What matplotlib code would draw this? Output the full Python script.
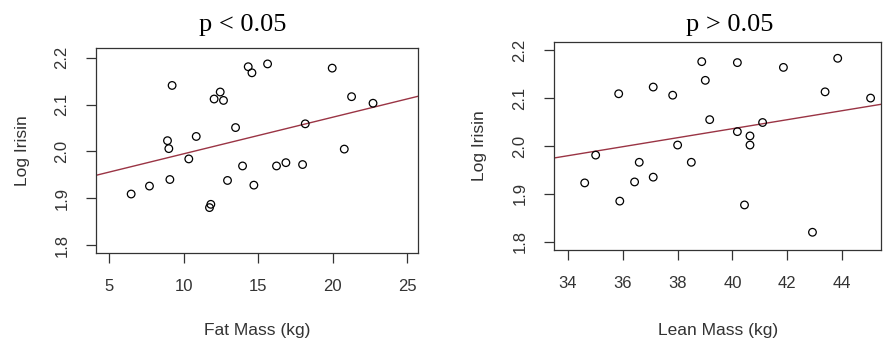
import numpy as np
import matplotlib.pyplot as plt
from matplotlib.ticker import FixedLocator, FormatStrFormatter

# data
fat_mass = [6.48, 7.71, 8.92, 9.01, 9.08, 9.23, 10.35, 10.85, 11.74, 11.83,
            12.05, 12.46, 12.68, 12.95, 13.49, 13.96, 14.34, 14.59, 14.72, 15.64,
            16.24, 16.87, 17.99, 18.17, 19.98, 20.79, 21.28, 22.72]
fat_irisin = [1.909, 1.926, 2.023, 2.006, 1.940, 2.141, 1.984, 2.032, 1.880, 1.887,
              2.112, 2.127, 2.109, 1.938, 2.051, 1.969, 2.181, 2.168, 1.928, 2.187,
              1.969, 1.976, 1.972, 2.059, 2.178, 2.005, 2.117, 2.103]
fat_fit = [1.9168, 0.00781]   # intercept, slope

lean_mass = [34.61, 35.01, 35.85, 35.89, 36.43, 36.60, 37.11, 37.11, 37.82, 38.00,
             38.50, 38.88, 39.01, 39.17, 40.18, 40.18, 40.44, 40.64, 40.64, 41.10,
             41.86, 42.92, 43.38, 43.84, 45.04]
lean_irisin = [1.923, 1.981, 2.109, 1.885, 1.925, 1.966, 2.123, 1.935, 2.106, 2.002,
               1.966, 2.176, 2.137, 2.055, 2.030, 2.174, 1.877, 2.021, 2.002, 2.049,
               2.164, 1.820, 2.113, 2.183, 2.100]
lean_fit = [1.6605, 0.00939]

fat_ticks = [5, 10, 15, 20, 25]
lean_ticks = [34, 36, 38, 40, 42, 44]
y_ticks = [1.8, 1.9, 2.0, 2.1, 2.2]

W, H = 883, 343
fig = plt.figure(figsize=(W / 100, H / 100), dpi=100)

def px(x0, y0, x1, y1):
    # pixel box (top-left origin) -> figure rect
    return [x0 / W, 1 - y1 / H, (x1 - x0) / W, (y1 - y0) / H]

txt = '#333333'

def panel(rect, x, y, fit, xticks, xlim, ylim, title, title_x, xlabel, xlab_x, ylab_x):
    ax = fig.add_axes(px(*rect))
    ax.scatter(x, y, s=30, facecolors='none', edgecolors='black', linewidths=0.9, zorder=3)
    ax.axline((0, fit[0]), slope=fit[1], color='#9a3444', lw=1.0)
    ax.set_xlim(xlim)
    ax.set_ylim(ylim)
    ax.xaxis.set_major_locator(FixedLocator(xticks))
    ax.yaxis.set_major_locator(FixedLocator(y_ticks))
    ax.yaxis.set_major_formatter(FormatStrFormatter('%.1f'))
    ax.tick_params(length=7, width=0.9, color='#333333', labelcolor=txt, labelsize=12)
    ax.tick_params(axis='x', pad=12)
    ax.tick_params(axis='y', pad=12)
    for lab in ax.get_yticklabels():
        lab.set_rotation(90)
        lab.set_va('center')
    for s in ax.spines.values():
        s.set_color('#333333')
        s.set_linewidth(0.9)
    fig.text(title_x / W, 1 - 25 / H, title, family='Liberation Serif', fontsize=19,
             ha='center', va='center', color='black')
    fig.text(xlab_x / W, 1 - 330 / H, xlabel, family='Liberation Sans', fontsize=12.5,
             ha='center', va='center', color=txt)
    fig.text(ylab_x / W, 1 - (rect[1] + rect[3]) / 2 / H, 'Log Irisin', family='Liberation Sans',
             fontsize=12.5, ha='center', va='center', rotation=90, color=txt)
    return ax

plt.rcParams['font.family'] = 'Liberation Sans'

panel((96, 48, 418, 253), fat_mass, fat_irisin, fat_fit, fat_ticks, (4.12, 25.74),
      (1.783, 2.221), 'p < 0.05', 243, 'Fat Mass (kg)', 257, 22)
panel((554, 42, 881, 250), lean_mass, lean_irisin, lean_fit, lean_ticks, (33.49, 45.42),
      (1.783, 2.217), 'p > 0.05', 730, 'Lean Mass (kg)', 718, 479)

fig.savefig('out.png', dpi=100)
